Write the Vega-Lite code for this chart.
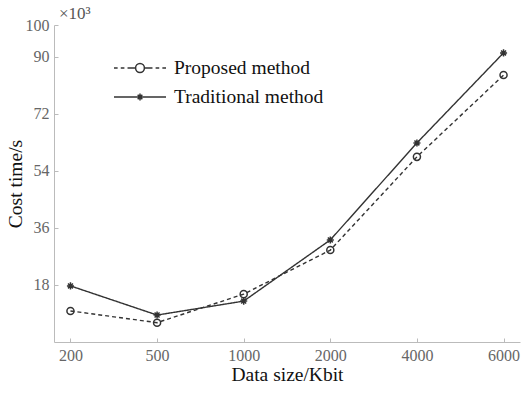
{
  "$schema": "https://vega.github.io/schema/vega-lite/v6.json",
  "width": 466,
  "height": 317,
  "autosize": "none",
  "padding": {"left": 54, "top": 25, "right": 1, "bottom": 53},
  "background": "white",
  "config": {
    "view": {"stroke": null},
    "font": "Liberation Serif",
    "axis": {
      "grid": false,
      "domainColor": "#bbbbbb",
      "tickColor": "#bbbbbb",
      "tickSize": -4,
      "labelPadding": 9,
      "labelFontSize": 16,
      "labelColor": "#666666",
      "labelFont": "Liberation Serif",
      "titleFont": "Liberation Serif",
      "titleFontSize": 19.5,
      "titleFontWeight": "normal",
      "titleColor": "#111111"
    }
  },
  "title": {
    "text": "×10³",
    "anchor": "start",
    "frame": "group",
    "dx": 5,
    "offset": -6,
    "fontSize": 17,
    "font": "Liberation Serif",
    "fontWeight": "normal",
    "color": "#555555"
  },
  "data": {
    "values": [
      {"size": 200, "method": "Proposed method", "time": 9.8},
      {"size": 500, "method": "Proposed method", "time": 6.1},
      {"size": 1000, "method": "Proposed method", "time": 15.1},
      {"size": 2000, "method": "Proposed method", "time": 29.0},
      {"size": 4000, "method": "Proposed method", "time": 58.4},
      {"size": 6000, "method": "Proposed method", "time": 84.2},
      {"size": 200, "method": "Traditional method", "time": 17.7},
      {"size": 500, "method": "Traditional method", "time": 8.5},
      {"size": 1000, "method": "Traditional method", "time": 12.9},
      {"size": 2000, "method": "Traditional method", "time": 32.2},
      {"size": 4000, "method": "Traditional method", "time": 62.8},
      {"size": 6000, "method": "Traditional method", "time": 91.2}
    ]
  },
  "encoding": {
    "x": {
      "field": "size",
      "type": "ordinal",
      "scale": {"type": "point", "padding": 0.19},
      "axis": {"title": "Data size/Kbit", "labelAngle": 0, "titlePadding": 2}
    },
    "y": {
      "field": "time",
      "type": "quantitative",
      "scale": {"domain": [0, 100], "nice": false},
      "axis": {"title": "Cost time/s", "values": [18, 36, 54, 72, 90, 100], "titlePadding": 0}
    }
  },
  "layer": [
    {
      "mark": {"type": "line", "color": "#333333", "strokeWidth": 1.4},
      "encoding": {
        "strokeDash": {
          "field": "method",
          "type": "nominal",
          "scale": {"domain": ["Proposed method", "Traditional method"], "range": [[4, 3], [1, 0]]},
          "legend": null
        }
      }
    },
    {
      "mark": {"type": "point", "filled": false, "color": "#333333", "strokeWidth": 1.5, "size": 50, "opacity": 1},
      "encoding": {
        "shape": {
          "field": "method",
          "type": "nominal",
          "scale": {
            "domain": ["Proposed method", "Traditional method"],
            "range": ["circle", "M-1,0L1,0M0,-1L0,1M-0.7,-0.7L0.7,0.7M-0.7,0.7L0.7,-0.7"]
          },
          "legend": null
        }
      }
    },
    {
      "transform": [{"filter": "datum.time < 0"}],
      "mark": {"type": "point", "filled": false, "color": "#333333", "strokeWidth": 1.5, "opacity": 1},
      "encoding": {
        "shape": {
          "field": "method",
          "type": "nominal",
          "scale": {
            "domain": ["Proposed method", "Traditional method"],
            "range": [
              "M-1,0L-0.86,0M-0.74,0L-0.6,0M-0.48,0L-0.34,0M0.34,0L0.48,0M0.6,0L0.74,0M0.86,0L1,0M-0.17,0A0.17,0.17 0 1,0 0.17,0A0.17,0.17 0 1,0 -0.17,0M-0.34,0L-0.17,0M0.17,0L0.34,0",
              "M-1,0L1,0M0,-0.13L0,0.13M-0.09,-0.09L0.09,0.09M-0.09,0.09L0.09,-0.09"
            ]
          },
          "legend": {
            "title": null,
            "orient": "none",
            "legendX": 59,
            "legendY": 32,
            "padding": 0,
            "symbolSize": 2704,
            "symbolStrokeWidth": 1.5,
            "symbolStrokeColor": "#333333",
            "symbolFillColor": "transparent",
            "labelFontSize": 19.5,
            "labelColor": "#111111",
            "labelFont": "Liberation Serif",
            "labelOffset": 7,
            "clipHeight": 22,
            "rowPadding": 7
          }
        }
      }
    }
  ],
  "resolve": {"scale": {"shape": "independent"}}
}
